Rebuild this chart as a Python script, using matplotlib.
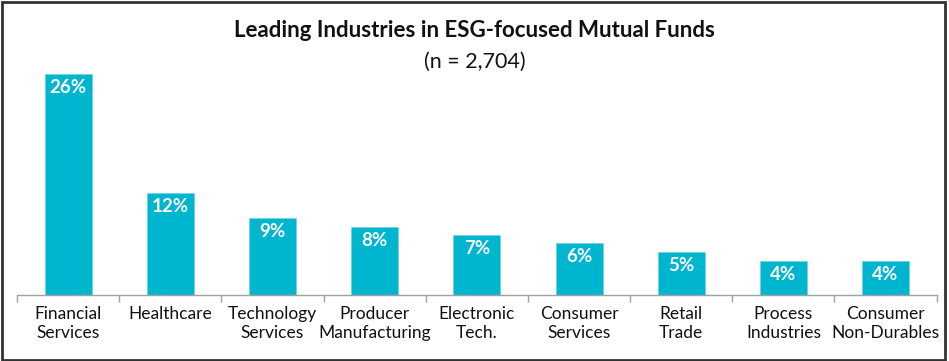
"""Bar chart of leading industries in ESG-focused mutual funds"""
import matplotlib
matplotlib.use("Agg")
import matplotlib.pyplot as plt
from matplotlib.patches import Rectangle

categories = [
    "Financial\nServices",
    "Healthcare",
    "Technology\nServices",
    "Producer\nManufacturing",
    "Electronic\nTech.",
    "Consumer\nServices",
    "Retail\nTrade",
    "Process\nIndustries",
    "Consumer\nNon-Durables",
]
values = [26, 12, 9.05, 8, 7.05, 6.1, 5.05, 4, 4]
labels = ["26%", "12%", "9%", "8%", "7%", "6%", "5%", "4%", "4%"]

BAR_COLOR = "#00B6CE"


def main():
    plt.rcParams["font.family"] = ["Lato", "DejaVu Sans"]

    fig = plt.figure(figsize=(9.49, 3.61), dpi=100)
    ax = fig.add_axes([0.018, 0.183, 0.969, 0.651])

    x = range(len(categories))
    ax.bar(x, values, width=0.46, color=BAR_COLOR, edgecolor="#6FD3E0", linewidth=0.5)

    for xi, v, lab in zip(x, values, labels):
        ax.text(xi, v - 0.6, lab, ha="center", va="top", color="white",
                fontsize=13.5, fontweight="bold")

    ax.set_xlim(-0.5, len(categories) - 0.5)
    ax.set_ylim(0, 27.6)
    ax.set_yticks([])
    ax.set_xticks(list(x))
    ax.set_xticklabels(categories, fontsize=12.5, color="#111111", linespacing=1.2)
    ax.tick_params(axis="x", which="major", length=0, pad=8)
    ax.set_xticks([i - 0.5 for i in range(len(categories) + 1)], minor=True)
    ax.tick_params(axis="x", which="minor", length=5, width=1, color="#A0A0A0",
                   direction="out")
    for side in ("top", "left", "right"):
        ax.spines[side].set_visible(False)
    ax.spines["bottom"].set_color("#A0A0A0")
    ax.spines["bottom"].set_linewidth(1)

    fig.text(0.5, 0.915, "Leading Industries in ESG-focused Mutual Funds",
             ha="center", va="center", fontsize=16, fontweight="bold", color="#111111")
    fig.text(0.5, 0.828, "(n = 2,704)", ha="center", va="center",
             fontsize=15.5, color="#111111")

    fig.patches.append(Rectangle((0.002, 0.004), 0.994, 0.99, transform=fig.transFigure,
                                 fill=False, edgecolor="#333333", linewidth=2))

    fig.savefig("out.png", dpi=100)


if __name__ == "__main__":
    main()
